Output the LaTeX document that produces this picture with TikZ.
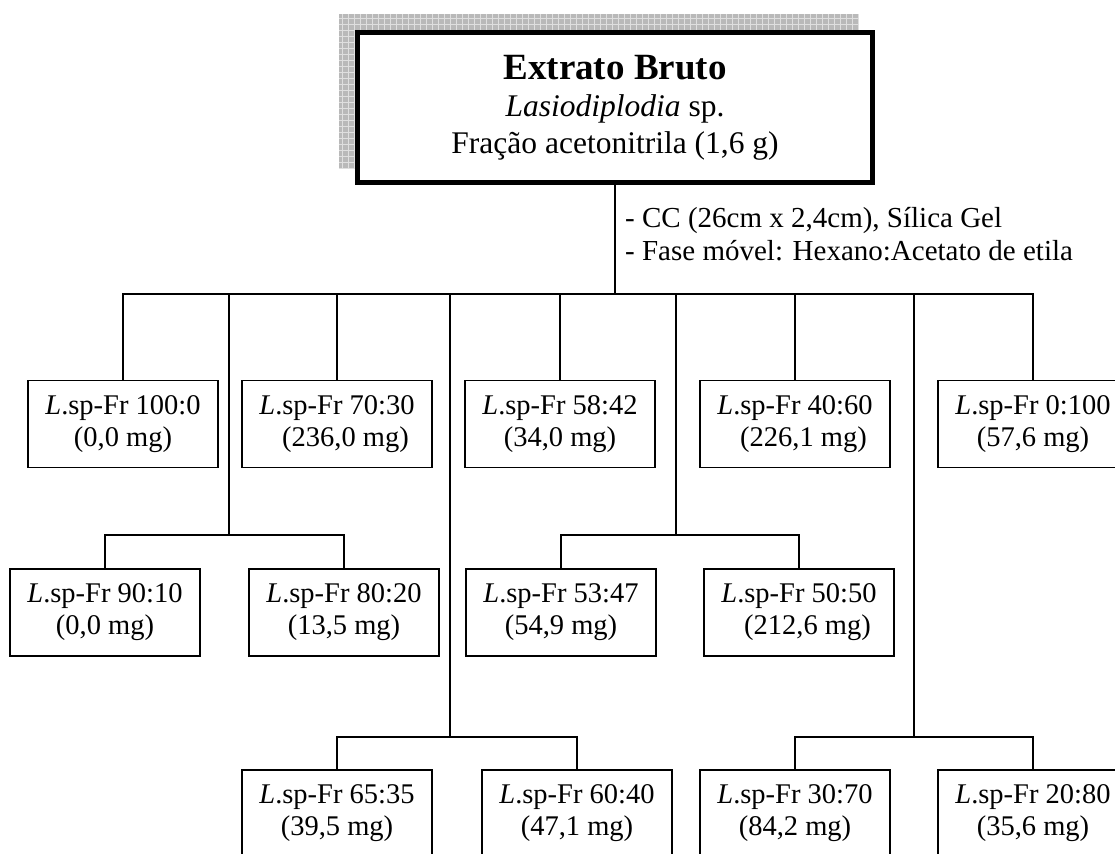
\documentclass[tikz,border=0pt]{standalone}
\usepackage{fontspec}
\setmainfont{Liberation Serif}
\begin{document}
\begin{tikzpicture}[x=1pt,y=-1pt,
  frac/.style={draw=black, line width=1.5pt, fill=white, minimum width=190pt, minimum height=87pt,
    inner sep=0pt, align=center, font=\fontsize{28.5}{32}\selectfont},
  conn/.style={line width=1.5pt, line join=miter},
  ann/.style={anchor=base west, inner sep=0pt, font=\fontsize{29}{33}\selectfont},
  ttl/.style={anchor=base, inner sep=0pt},
  rootbox/.style={draw=black, line width=5pt, fill=white, minimum width=515pt, minimum height=150pt, inner sep=0pt}]
\useasboundingbox (0,0) rectangle (1115,853);
\clip (0,0) rectangle (1115,853);
% shadow of the root box
\fill[gray!55] (339,14) rectangle (858,169);
\draw[white!75!gray, line width=0.6pt, step=6pt] (339,14) grid (858,169);
% root box
\node[rootbox] (root) at (615,107.5) {};
\node[ttl, font=\bfseries\fontsize{37}{40}\selectfont] (title) at (615,80) {Extrato Bruto};
\node[ttl, font=\fontsize{31.5}{36}\selectfont] (species) at (615,117) {\textit{Lasiodiplodia} sp.};
\node[ttl, font=\fontsize{31.5}{36}\selectfont] (fraction) at (615,154) {Fração acetonitrila (1,6 g)};
% annotation
\node[ann] (ann1) at (625,227) {- CC (26cm x 2,4cm), Sílica Gel};
\node[ann] (ann2) at (625,260) {- Fase móvel: Hexano:Acetato de etila};
% row 1
\node[frac] (f1) at (123,424) {\textit{L}.sp-Fr 100:0\\(0,0 mg)};
\node[frac] (f2) at (337,424) {\textit{L}.sp-Fr 70:30\\\hspace*{0.6em}(236,0 mg)};
\node[frac] (f3) at (560,424) {\textit{L}.sp-Fr 58:42\\(34,0 mg)};
\node[frac] (f4) at (795,424) {\textit{L}.sp-Fr 40:60\\\hspace*{0.6em}(226,1 mg)};
\node[frac] (f5) at (1033,424) {\textit{L}.sp-Fr 0:100\\(57,6 mg)};
% row 2
\node[frac] (g1) at (105,612.5) {\textit{L}.sp-Fr 90:10\\(0,0 mg)};
\node[frac] (g2) at (344,612.5) {\textit{L}.sp-Fr 80:20\\(13,5 mg)};
\node[frac] (g3) at (561,612.5) {\textit{L}.sp-Fr 53:47\\(54,9 mg)};
\node[frac] (g4) at (799,612.5) {\textit{L}.sp-Fr 50:50\\\hspace*{0.6em}(212,6 mg)};
% row 3
\node[frac] (h1) at (337,813.5) {\textit{L}.sp-Fr 65:35\\(39,5 mg)};
\node[frac] (h2) at (577,813.5) {\textit{L}.sp-Fr 60:40\\(47,1 mg)};
\node[frac] (h3) at (795,813.5) {\textit{L}.sp-Fr 30:70\\(84,2 mg)};
\node[frac] (h4) at (1033,813.5) {\textit{L}.sp-Fr 20:80\\(35,6 mg)};
% junction coordinates
\coordinate (bus) at (616,294);
\coordinate (tA) at (229,294); \coordinate (hA) at (229,535);
\coordinate (tB) at (450,294); \coordinate (hB) at (450,737);
\coordinate (tC) at (676,294); \coordinate (hC) at (676,535);
\coordinate (tD) at (914,294); \coordinate (hD) at (914,737);
% trunk and main bus
\draw[conn] (root.south) -- (root.south |- bus);
\draw[conn] (f1.north) -- (f1 |- bus) -- (f5 |- bus) -- (f5.north);
\foreach \n in {f2,f3,f4} \draw[conn] (\n |- bus) -- (\n.north);
% sub-branches
\draw[conn] (tA) -- (hA);
\draw[conn] (g1.north) -- (g1 |- hA) -- (g2 |- hA) -- (g2.north);
\draw[conn] (tB) -- (hB);
\draw[conn] (h1.north) -- (h1 |- hB) -- (h2 |- hB) -- (h2.north);
\draw[conn] (tC) -- (hC);
\draw[conn] (g3.north) -- (g3 |- hC) -- (g4 |- hC) -- (g4.north);
\draw[conn] (tD) -- (hD);
\draw[conn] (h3.north) -- (h3 |- hD) -- (h4 |- hD) -- (h4.north);
\end{tikzpicture}
\end{document}
